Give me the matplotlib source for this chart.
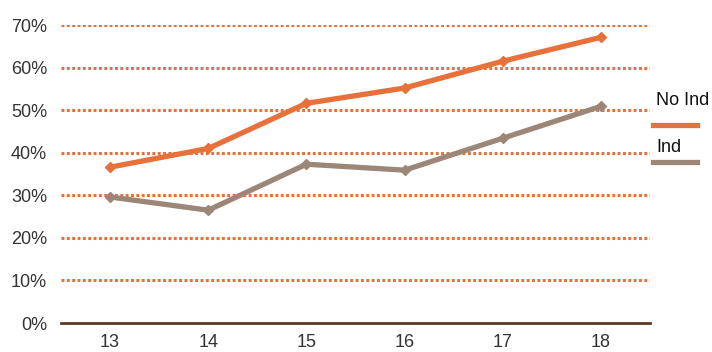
import matplotlib
matplotlib.use("Agg")
import matplotlib.pyplot as plt
from matplotlib.lines import Line2D
from matplotlib.ticker import FuncFormatter

categories = ["13", "14", "15", "16", "17", "18"]
no_ind = [36.6, 41.0, 51.6, 55.2, 61.5, 67.1]
ind = [29.6, 26.5, 37.3, 35.9, 43.4, 50.9]
yticks = [0, 10, 20, 30, 40, 50, 60, 70]

orange = "#E8703A"
gray = "#9C8677"
axis_col = "#5C3A21"
text_col = "#333333"

plt.rcParams['font.family'] = ['Liberation Sans', 'DejaVu Sans']

fig = plt.figure(figsize=(7.12, 3.52), dpi=100)
ax = fig.add_axes([61/712, 29/352, 589/712, 298/352])

x = list(range(len(categories)))
for yv in yticks[1:]:
    ax.axhline(yv, color=orange, lw=2.2, ls=(0, (0.95, 0.8)), zorder=1)

ax.plot(x, no_ind, color=orange, lw=3.8, marker="D", ms=5, zorder=3, solid_joinstyle="miter")
ax.plot(x, ind, color=gray, lw=3.8, marker="D", ms=5, zorder=3, solid_joinstyle="miter")

ax.set_xlim(-0.5, 5.5)
ax.set_ylim(0, 70)
ax.set_xticks(x)
ax.set_xticklabels(categories)
ax.set_yticks(yticks)
ax.yaxis.set_major_formatter(FuncFormatter(lambda v, p: f"{int(v)}%"))
ax.tick_params(axis="both", length=0, labelsize=13, colors=text_col, pad=8)
ax.tick_params(axis="y", pad=10)
for s in ["top", "right", "left"]:
    ax.spines[s].set_visible(False)
ax.spines["bottom"].set_color(axis_col)
ax.spines["bottom"].set_linewidth(2)
ax.spines["bottom"].set_zorder(4)

# legend
fig.text(656/712, 1 - 101/352, "No Ind", fontsize=13, color="#111111", va="center", ha="left")
fig.add_artist(Line2D([653/712, 697/712], [1 - 125/352, 1 - 125/352], color=orange, lw=3.8, transform=fig.transFigure))
fig.text(656/712, 1 - 147/352, "Ind", fontsize=13, color="#111111", va="center", ha="left")
fig.add_artist(Line2D([653/712, 697/712], [1 - 162/352, 1 - 162/352], color=gray, lw=3.8, transform=fig.transFigure))

fig.savefig("out.png", dpi=100)
